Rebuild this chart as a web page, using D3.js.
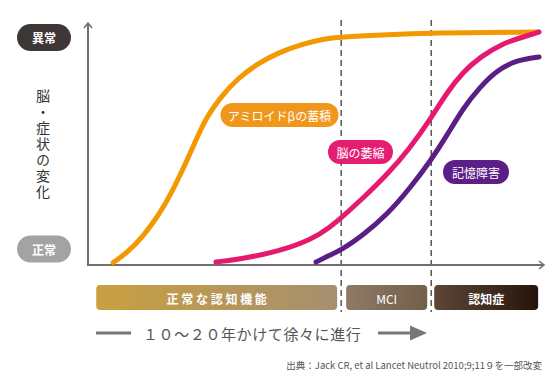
<!DOCTYPE html>
<html><head><meta charset="utf-8">
<script src="https://cdn.jsdelivr.net/npm/d3@7"></script>
<style>
html,body{margin:0;padding:0;background:#fff;}
svg{display:block;font-family:"Noto Sans CJK JP","Noto Sans",sans-serif;}
</style></head>
<body><svg id="c" width="554" height="383"></svg>
<script>
// ---- data (time units 0-100 along the x axis, level 0 = 正常, 100 = 異常) ----
const amyloidX = [5.5, 8.5, 12.0, 15.8, 18.6, 21.7, 23.9, 26.0, 28.7, 32.6, 37.0, 41.4, 47.0, 51.4, 55.4, 63.9, 75.1, 98.5];
const amyloidY = [0.2, 4.3, 11.3, 21.6, 31.6, 44.6, 54.5, 63.2, 71.0, 79.7, 86.1, 90.9, 94.8, 97.0, 97.8, 98.7, 99.6, 100];
const atrophyX = [28.0, 34.8, 42.0, 49.2, 53.0, 55.4, 60.2, 65.4, 70.5, 75.1, 78.6, 82.1, 85.8, 90.8, 95.2, 98.7];
const atrophyY = [0.4, 2.2, 5.2, 10.4, 15.6, 19.5, 28.1, 38.1, 49.8, 62.8, 74.0, 82.7, 89.2, 95.2, 97.8, 100];
const memoryX = [49.9, 53.0, 55.4, 60.2, 65.4, 70.5, 75.1, 78.6, 82.1, 85.8, 89.5, 93.9, 98.7];
const memoryY = [0.4, 3.5, 5.6, 12.1, 20.8, 32.5, 44.6, 55.4, 67.1, 76.2, 83.5, 87.9, 89.2];
const seriesNames = ["アミロイドβの蓄積", "脳の萎縮", "記憶障害"];
const phaseBounds = [1.8, 55.4, 75.1, 98.5];
const phaseNames = ["正 常 な 認 知 機 能", "MCI", "認知症"];
const levelLabels = ["正常", "異常"];
const yTitle = "脳・症状の変化";
const progressText = "１０～２０年かけて徐々に進行";
const sourceText = "出典：Jack CR, et al Lancet Neutrol 2010;9;11９を一部改変";

const svg = d3.select("#c");
const x = d3.scaleLinear().domain([0, 100]).range([88, 545]);
const y = d3.scaleLinear().domain([0, 100]).range([263, 32]);

const defs = svg.append("defs");
function grad(id, c1, c2) {
  const g = defs.append("linearGradient").attr("id", id).attr("x1", "0").attr("x2", "1").attr("y1", "0").attr("y2", "0");
  g.append("stop").attr("offset", "0").attr("stop-color", c1);
  g.append("stop").attr("offset", "1").attr("stop-color", c2);
}
grad("g0", "#c9a040", "#a68f70");
grad("g1", "#8e7a66", "#725f4c");
grad("g2", "#5e4638", "#25140b");

// dashed phase lines
[phaseBounds[1], phaseBounds[2]].forEach(v => {
  svg.append("line").attr("x1", x(v)).attr("x2", x(v)).attr("y1", 20).attr("y2", 312)
    .attr("stroke", "#4a4a4a").attr("stroke-width", 1.4).attr("stroke-dasharray", "6,4");
});

// axes
const axisColor = "#707070";
svg.append("line").attr("x1", x(0)).attr("x2", x(0)).attr("y1", 24).attr("y2", 265)
  .attr("stroke", axisColor).attr("stroke-width", 2);
svg.append("line").attr("x1", x(0) - 1).attr("x2", x(100) - 1).attr("y1", 265).attr("y2", 265)
  .attr("stroke", axisColor).attr("stroke-width", 2);
svg.append("path").attr("d", `M${x(0)-4},28 L${x(0)},23 L${x(0)+4},28`)
  .attr("fill", "none").attr("stroke", axisColor).attr("stroke-width", 1.6);
svg.append("path").attr("d", `M${x(100)-6},261 L${x(100)-1},265 L${x(100)-6},269`)
  .attr("fill", "none").attr("stroke", axisColor).attr("stroke-width", 1.6);

// curves
const line = d3.line().x(d => x(d[0])).y(d => y(d[1])).curve(d3.curveBasis);
const series = [
  { xs: amyloidX, ys: amyloidY, color: "#f39800" },
  { xs: atrophyX, ys: atrophyY, color: "#e5196f" },
  { xs: memoryX, ys: memoryY, color: "#5b1e86" }
];
series.forEach(s => {
  svg.append("path").datum(s.xs.map((v, i) => [v, s.ys[i]]))
    .attr("d", line).attr("fill", "none").attr("stroke", s.color)
    .attr("stroke-width", 5).attr("stroke-linecap", "round");
});

// series pills
const pills = [
  { text: seriesNames[0], cx: 279.5, cy: 115, w: 118, color: "#f0961a" },
  { text: seriesNames[1], cx: 360.5, cy: 152, w: 65, color: "#e51d72" },
  { text: seriesNames[2], cx: 476, cy: 172, w: 66, color: "#5c1f88" }
];
pills.forEach(p => {
  svg.append("rect").attr("x", p.cx - p.w / 2).attr("y", p.cy - 12).attr("width", p.w).attr("height", 24)
    .attr("rx", 12).attr("fill", p.color);
  svg.append("text").attr("x", p.cx).attr("y", p.cy).attr("text-anchor", "middle")
    .attr("dominant-baseline", "central").attr("fill", "#fff").attr("font-size", 12).text(p.text);
});

// level pills
[{ t: levelLabels[1], cy: 37.5, c: "#3d3735" }, { t: levelLabels[0], cy: 249, c: "#a3a3a3" }].forEach(p => {
  svg.append("rect").attr("x", 17).attr("y", p.cy - 13.5).attr("width", 54).attr("height", 27)
    .attr("rx", 13.5).attr("fill", p.c);
  svg.append("text").attr("x", 44).attr("y", p.cy).attr("text-anchor", "middle")
    .attr("dominant-baseline", "central").attr("fill", "#fff").attr("font-size", 12)
    .attr("font-weight", 700).text(p.t);
});

// vertical title
svg.append("text").attr("x", 43).attr("y", 89).style("writing-mode", "vertical-rl")
  .attr("font-size", 14).attr("letter-spacing", 2).attr("fill", "#333").text(yTitle);

// phase bars
const barX = [[x(phaseBounds[0]), x(phaseBounds[1]) - 4], [x(phaseBounds[1]) + 5, x(phaseBounds[2]) - 4], [x(phaseBounds[2]) + 3, x(phaseBounds[3])]];
barX.forEach((b, i) => {
  svg.append("rect").attr("x", b[0]).attr("y", 285).attr("width", b[1] - b[0]).attr("height", 25)
    .attr("rx", 4).attr("fill", `url(#g${i})`);
  svg.append("text").attr("x", (b[0] + b[1]) / 2).attr("y", 298).attr("text-anchor", "middle")
    .attr("dominant-baseline", "central").attr("fill", "#fff").attr("font-size", 12)
    .attr("font-weight", i === 1 ? 400 : 700).text(phaseNames[i]);
});

// progress row
svg.append("line").attr("x1", 96).attr("x2", 131).attr("y1", 333).attr("y2", 333)
  .attr("stroke", "#777").attr("stroke-width", 3);
svg.append("text").attr("x", 143).attr("y", 333).attr("dominant-baseline", "central")
  .attr("font-size", 15).attr("letter-spacing", 0.6).attr("fill", "#555").text(progressText);
svg.append("line").attr("x1", 378).attr("x2", 412).attr("y1", 333).attr("y2", 333)
  .attr("stroke", "#777").attr("stroke-width", 3);
svg.append("path").attr("d", "M410,325.5 L427,333 L410,340.5 Z").attr("fill", "#777");

// source
svg.append("text").attr("x", 542).attr("y", 365).attr("text-anchor", "end")
  .attr("dominant-baseline", "central").attr("font-size", 9.5).attr("fill", "#555").text(sourceText);
</script></body></html>
